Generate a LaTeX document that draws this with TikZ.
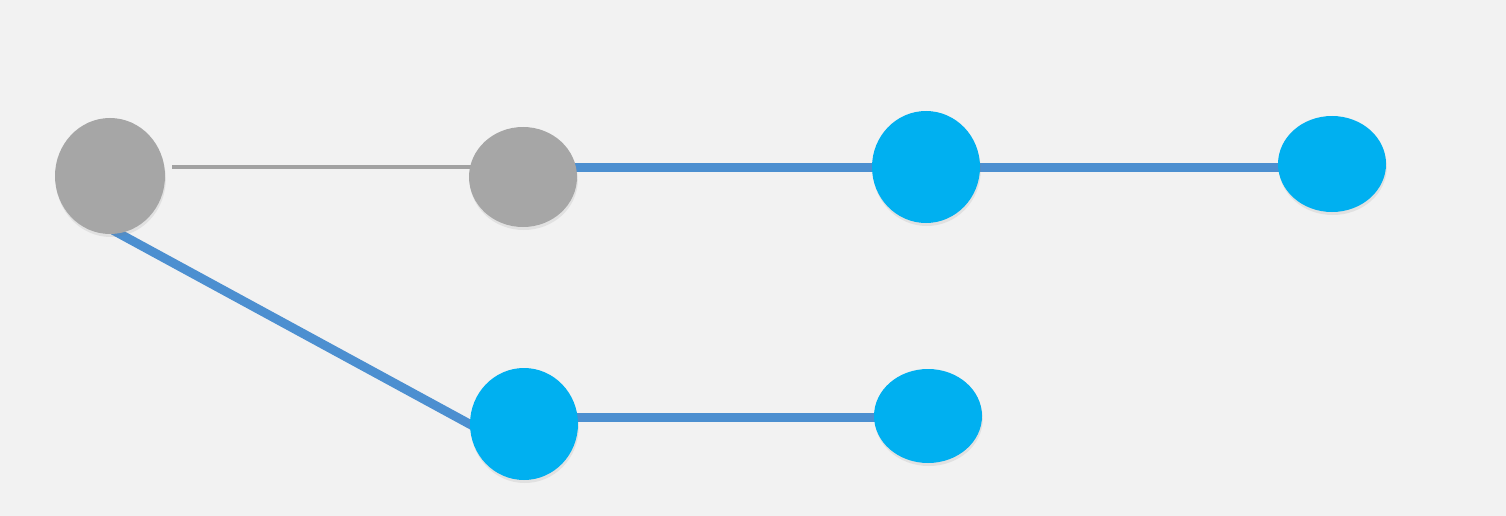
\documentclass[tikz,border=0pt]{standalone}
\usetikzlibrary{shapes.geometric,shadows,calc}
\pgfdeclarelayer{bg}
\pgfdeclarelayer{edges}
\pgfsetlayers{bg,edges,main}
\definecolor{bgcol}{HTML}{F2F2F2}
\definecolor{nodegray}{HTML}{A6A6A6}
\definecolor{nodeblue}{HTML}{00B0F0}
\definecolor{lineblue}{HTML}{4C8FD0}
\definecolor{linegray}{HTML}{A2A2A2}
\tikzset{
  commit/.style={ellipse, inner sep=0pt, draw=none,
    drop shadow={opacity=0.15, shadow xshift=0.8pt, shadow yshift=-3pt}},
  oldcommit/.style={commit, fill=nodegray},
  newcommit/.style={commit, fill=nodeblue},
  blueline/.style={draw=lineblue, line width=9pt},
  grayline/.style={draw=linegray, line width=4.5pt}
}
\begin{document}
\begin{tikzpicture}[x=1pt,y=-1pt]
\useasboundingbox (0,0) rectangle (1506,516);
\begin{pgfonlayer}{bg}
\fill[bgcol] (0,0) rectangle (1506,516);
\end{pgfonlayer}
\node[oldcommit, minimum width=110pt, minimum height=116pt] (n1) at (110,176) {};
\node[oldcommit, minimum width=108pt, minimum height=100pt] (n2) at (523,177) {};
\node[newcommit, minimum width=108pt, minimum height=112pt] (n3) at (926,167) {};
\node[newcommit, minimum width=108pt, minimum height=96pt] (n4) at (1332,164) {};
\node[newcommit, minimum width=108pt, minimum height=112pt] (n5) at (524,424) {};
\node[newcommit, minimum width=108pt, minimum height=94pt] (n6) at (928,416) {};
\begin{pgfonlayer}{edges}
\draw[grayline] (n1.east) ++(7,-9) coordinate (g1) -- (g1 -| n2.center);
\draw[blueline] (n2.center |- n3.center) -- (n3.center) -- (n3.center -| n4.center);
\draw[blueline] ($(n1.south)+(3,-4)$) -- ($(n5.west)+(7,4)$);
\draw[blueline] ($(n5.center |- n6.center)+(0,1)$) coordinate (b1) -- (b1 -| n6.center);
\end{pgfonlayer}
\end{tikzpicture}
\end{document}
